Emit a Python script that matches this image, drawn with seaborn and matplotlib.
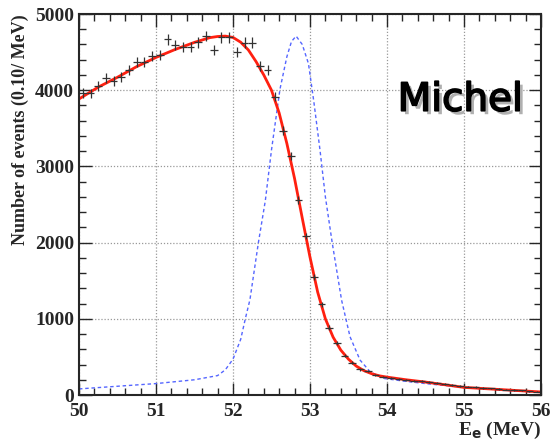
import matplotlib
matplotlib.use("Agg")
import matplotlib.pyplot as plt
import matplotlib.patheffects as pe
from matplotlib.ticker import MultipleLocator
import numpy as np
import pandas as pd
import seaborn as sns

# data points (bin centres, counts per 0.10 MeV)
bin_centres = [50.05, 50.15, 50.25, 50.35, 50.45, 50.55, 50.65, 50.75, 50.85, 50.95,
               51.05, 51.15, 51.25, 51.35, 51.45, 51.55, 51.65, 51.75, 51.85, 51.95,
               52.05, 52.15, 52.25, 52.35, 52.45, 52.55, 52.65, 52.75, 52.85, 52.95,
               53.05, 53.15, 53.25, 53.35, 53.45, 53.55, 53.65, 53.75, 53.85, 53.95,
               54.05, 54.15, 54.25, 54.35, 54.45, 54.55, 54.65, 54.75, 54.85, 54.95,
               55.05, 55.15, 55.25, 55.35, 55.45, 55.55, 55.65, 55.75, 55.85, 55.95]
counts = [3967, 3959, 4055, 4156, 4125, 4178, 4265, 4374, 4374, 4449,
          4462, 4668, 4593, 4571, 4571, 4628, 4711, 4527, 4693, 4693,
          4505, 4624, 4624, 4318, 4265, 3915, 3465, 3136, 2559, 2087,
          1553, 1190, 884, 678, 516, 424, 337, 315, 262, 232,
          222, 208, 195, 185, 188, 165, 158, 145, 132, 120,
          110, 102, 95, 86, 80, 72, 66, 60, 52, 45]

# fitted curve (red)
fit_e = [50.0, 50.25, 50.5, 50.75, 51.0, 51.25, 51.5, 51.7, 51.8, 51.9, 52.0, 52.1,
         52.2, 52.3, 52.4, 52.5, 52.6, 52.7, 52.8, 52.9, 53.0, 53.1, 53.2, 53.3,
         53.4, 53.5, 53.6, 53.7, 53.8, 53.9, 54.0, 54.25, 54.5, 54.75, 55.0, 55.25,
         55.5, 55.75, 56.0]
fit_n = [3885, 4040, 4170, 4310, 4430, 4535, 4628, 4690, 4705, 4710, 4693, 4630,
         4528, 4375, 4200, 4000, 3700, 3300, 2840, 2320, 1810, 1350, 1000, 760,
         590, 470, 380, 320, 280, 252, 235, 200, 170, 135, 100, 85,
         70, 55, 40]

# detector response (blue dashed)
resp_e = [50.0, 50.5, 51.0, 51.5, 51.8, 51.9, 52.0, 52.1, 52.16, 52.22, 52.33, 52.42,
          52.5, 52.61, 52.7, 52.76, 52.82, 52.9, 52.98, 53.05, 53.13, 53.2, 53.29,
          53.41, 53.52, 53.65, 53.78, 53.95, 54.2, 54.5, 55.0, 55.5, 56.0]
resp_n = [80, 115, 150, 200, 255, 330, 470, 730, 1000, 1250, 2000, 2550,
          3215, 4012, 4440, 4640, 4710, 4600, 4350, 3850, 3215, 2600, 1990,
          1247, 765, 459, 306, 219, 185, 150, 100, 65, 35]

sns.set_style("ticks")
plt.rcParams["font.family"] = ["Liberation Serif", "DejaVu Serif"]
plt.rcParams["font.weight"] = "bold"
plt.rcParams["axes.labelweight"] = "bold"

fig = plt.figure(figsize=(5.5, 4.42), dpi=100)
ax = fig.add_axes([0.1436, 0.1063, 0.84, 0.862])

sns.lineplot(x=resp_e, y=resp_n, ax=ax, color="#5566ff", lw=1.0,
             linestyle=(0, (2.5, 2)), sort=False)
sns.lineplot(x=fit_e, y=fit_n, ax=ax, color="#ff2010", lw=2.0, sort=False)

cnt = np.array(counts)
ax.errorbar(bin_centres, cnt, xerr=0.05, yerr=np.sqrt(cnt), fmt="none",
            ecolor="#333333", elinewidth=0.9, capsize=0)

ax.set_xlim(50, 56)
ax.set_ylim(0, 5000)
ax.xaxis.set_major_locator(MultipleLocator(1))
ax.xaxis.set_minor_locator(MultipleLocator(0.2))
ax.yaxis.set_major_locator(MultipleLocator(1000))
ax.yaxis.set_minor_locator(MultipleLocator(200))
ax.tick_params(which="both", direction="in", top=True, right=True,
               labelsize=14, width=1.0)
ax.tick_params(axis="x", pad=6)
ax.tick_params(which="major", length=9)
ax.tick_params(which="minor", length=5)
for lab in ax.get_xticklabels() + ax.get_yticklabels():
    lab.set_fontweight("bold")
for sp in ax.spines.values():
    sp.set_linewidth(1.5)
ax.grid(True, which="major", color="#999999", linestyle=(0, (1, 1.5)), lw=0.9)
ax.set_axisbelow(True)

ax.set_xlabel("E$_\\mathbf{e}$ (MeV)", fontsize=14, loc="right", labelpad=0)
ax.set_ylabel("Number of events (0.10/ MeV)", fontsize=13, loc="top", labelpad=4)

ax.text(0.825, 0.775, "Michel", transform=ax.transAxes, fontsize=28,
        family="DejaVu Sans", fontweight="normal", ha="center", va="center",
        color="black",
        path_effects=[pe.withSimplePatchShadow(offset=(2.5, -2.5), shadow_rgbFace="#b0b0b0", alpha=1.0),
                      pe.withStroke(linewidth=1.2, foreground="black")])

fig.savefig("out.png", dpi=100)
